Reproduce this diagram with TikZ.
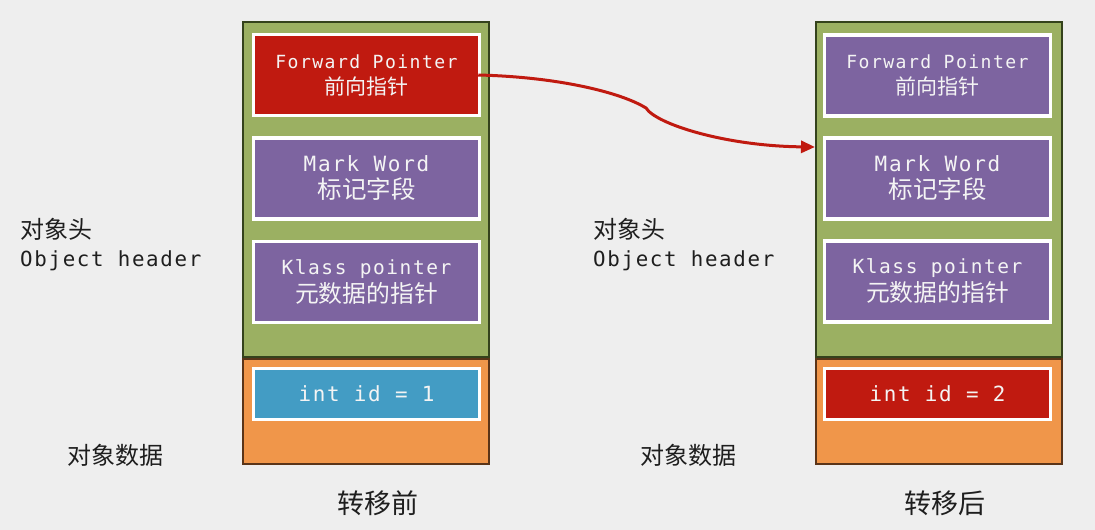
\documentclass[tikz,border=0pt]{standalone}
\usepackage{fontspec}
\newfontfamily\cjk{Noto Sans CJK SC}
\newfontfamily\mono[LetterSpace=8]{DejaVu Sans Mono}
\usetikzlibrary{arrows.meta}
\definecolor{bg}{HTML}{EEEEEE}
\definecolor{hdrgreen}{HTML}{9BB062}
\definecolor{hdrline}{HTML}{34421C}
\definecolor{datorange}{HTML}{F0964A}
\definecolor{datline}{HTML}{5A3418}
\definecolor{boxred}{HTML}{C01A10}
\definecolor{boxpurple}{HTML}{7D64A0}
\definecolor{boxblue}{HTML}{439CC4}
\definecolor{txtwhite}{HTML}{F4F4F4}
\definecolor{labeltxt}{HTML}{1E1E1E}
\begin{document}
\begin{tikzpicture}[x=1pt,y=-1pt,
  hdrpart/.style={draw=hdrline, fill=hdrgreen, line width=2pt, minimum width=246pt, minimum height=335pt, inner sep=0pt},
  datpart/.style={draw=datline, fill=datorange, line width=2pt, minimum width=246pt, minimum height=105pt, inner sep=0pt},
  field/.style={draw=white, line width=3.5pt, minimum width=226pt, minimum height=81pt, inner sep=0pt, align=center, text=txtwhite},
  valfield/.style={field, minimum height=51pt},
  lbl/.style={inner sep=0pt, text=labeltxt},
  moveline/.style={draw=boxred, line width=3pt, -{Triangle[length=14pt,width=12pt]}}
]
\fill[bg] (0,0) rectangle (1095,530);
\useasboundingbox (0,0) rectangle (1095,530);

% left object (before)
\node[hdrpart] (hdrL) at (366,189.5) {};
\node[datpart] (datL) at (366,411.5) {};
\node[field, fill=boxred, font=\fontsize{20}{26}\selectfont] (fpL) at (366.5,75) {\mono\fontsize{18.1}{26}\selectfont Forward Pointer\\\cjk\fontsize{21}{26}\selectfont 前向指针};
\node[field, fill=boxpurple, font=\fontsize{22}{27}\selectfont] (mwL) at (366.5,178.5) {\mono\fontsize{21}{27}\selectfont Mark Word\\\cjk\fontsize{24.5}{27}\selectfont 标记字段};
\node[field, fill=boxpurple, font=\fontsize{22}{28}\selectfont] (kpL) at (366.5,282) {\mono\fontsize{19.5}{28}\selectfont Klass pointer\\\cjk\fontsize{23.8}{28}\selectfont 元数据的指针};
\node[valfield, fill=boxblue] (idL) at (366.5,394) {\mono\fontsize{20.9}{24}\selectfont int id = 1};

% right object (after)
\node[hdrpart] (hdrR) at (939,189.5) {};
\node[datpart] (datR) at (939,411.5) {};
\node[field, fill=boxpurple, font=\fontsize{20}{26}\selectfont] (fpR) at (937.5,75.5) {\mono\fontsize{18.1}{26}\selectfont Forward Pointer\\\cjk\fontsize{21}{26}\selectfont 前向指针};
\node[field, fill=boxpurple, font=\fontsize{22}{27}\selectfont] (mwR) at (937.5,178.5) {\mono\fontsize{21}{27}\selectfont Mark Word\\\cjk\fontsize{24.5}{27}\selectfont 标记字段};
\node[field, fill=boxpurple, font=\fontsize{22}{28}\selectfont] (kpR) at (937.5,281.5) {\mono\fontsize{19.5}{28}\selectfont Klass pointer\\\cjk\fontsize{23.8}{28}\selectfont 元数据的指针};
\node[valfield, fill=boxred] (idR) at (937.5,394) {\mono\fontsize{20.9}{24}\selectfont int id = 2};

% labels
\node[lbl, anchor=west, align=left, font=\fontsize{22}{28}\selectfont] (ohL) at (20,245) {\cjk\fontsize{24}{28}\selectfont 对象头\\\mono\fontsize{20.8}{28}\selectfont Object header};
\node[lbl] (odL) at (115.5,455) {\cjk\fontsize{24}{28}\selectfont 对象数据};
\node[lbl, anchor=west, align=left, font=\fontsize{22}{28}\selectfont] (ohR) at (593,245) {\cjk\fontsize{24}{28}\selectfont 对象头\\\mono\fontsize{20.8}{28}\selectfont Object header};
\node[lbl] (odR) at (688,455) {\cjk\fontsize{24}{28}\selectfont 对象数据};
\node[lbl] (capL) at (378,503) {\cjk\fontsize{27}{30}\selectfont 转移前};
\node[lbl] (capR) at (945,503) {\cjk\fontsize{27}{30}\selectfont 转移后};

% forwarding arrow
\coordinate (tgt) at (hdrR.west |- 0,147);
\draw[moveline] ([xshift=-3pt]fpL.east) .. controls (560,77) and (622,93) .. (646,108)
  .. controls (656,124) and (725,146) .. (tgt);
\end{tikzpicture}
\end{document}
